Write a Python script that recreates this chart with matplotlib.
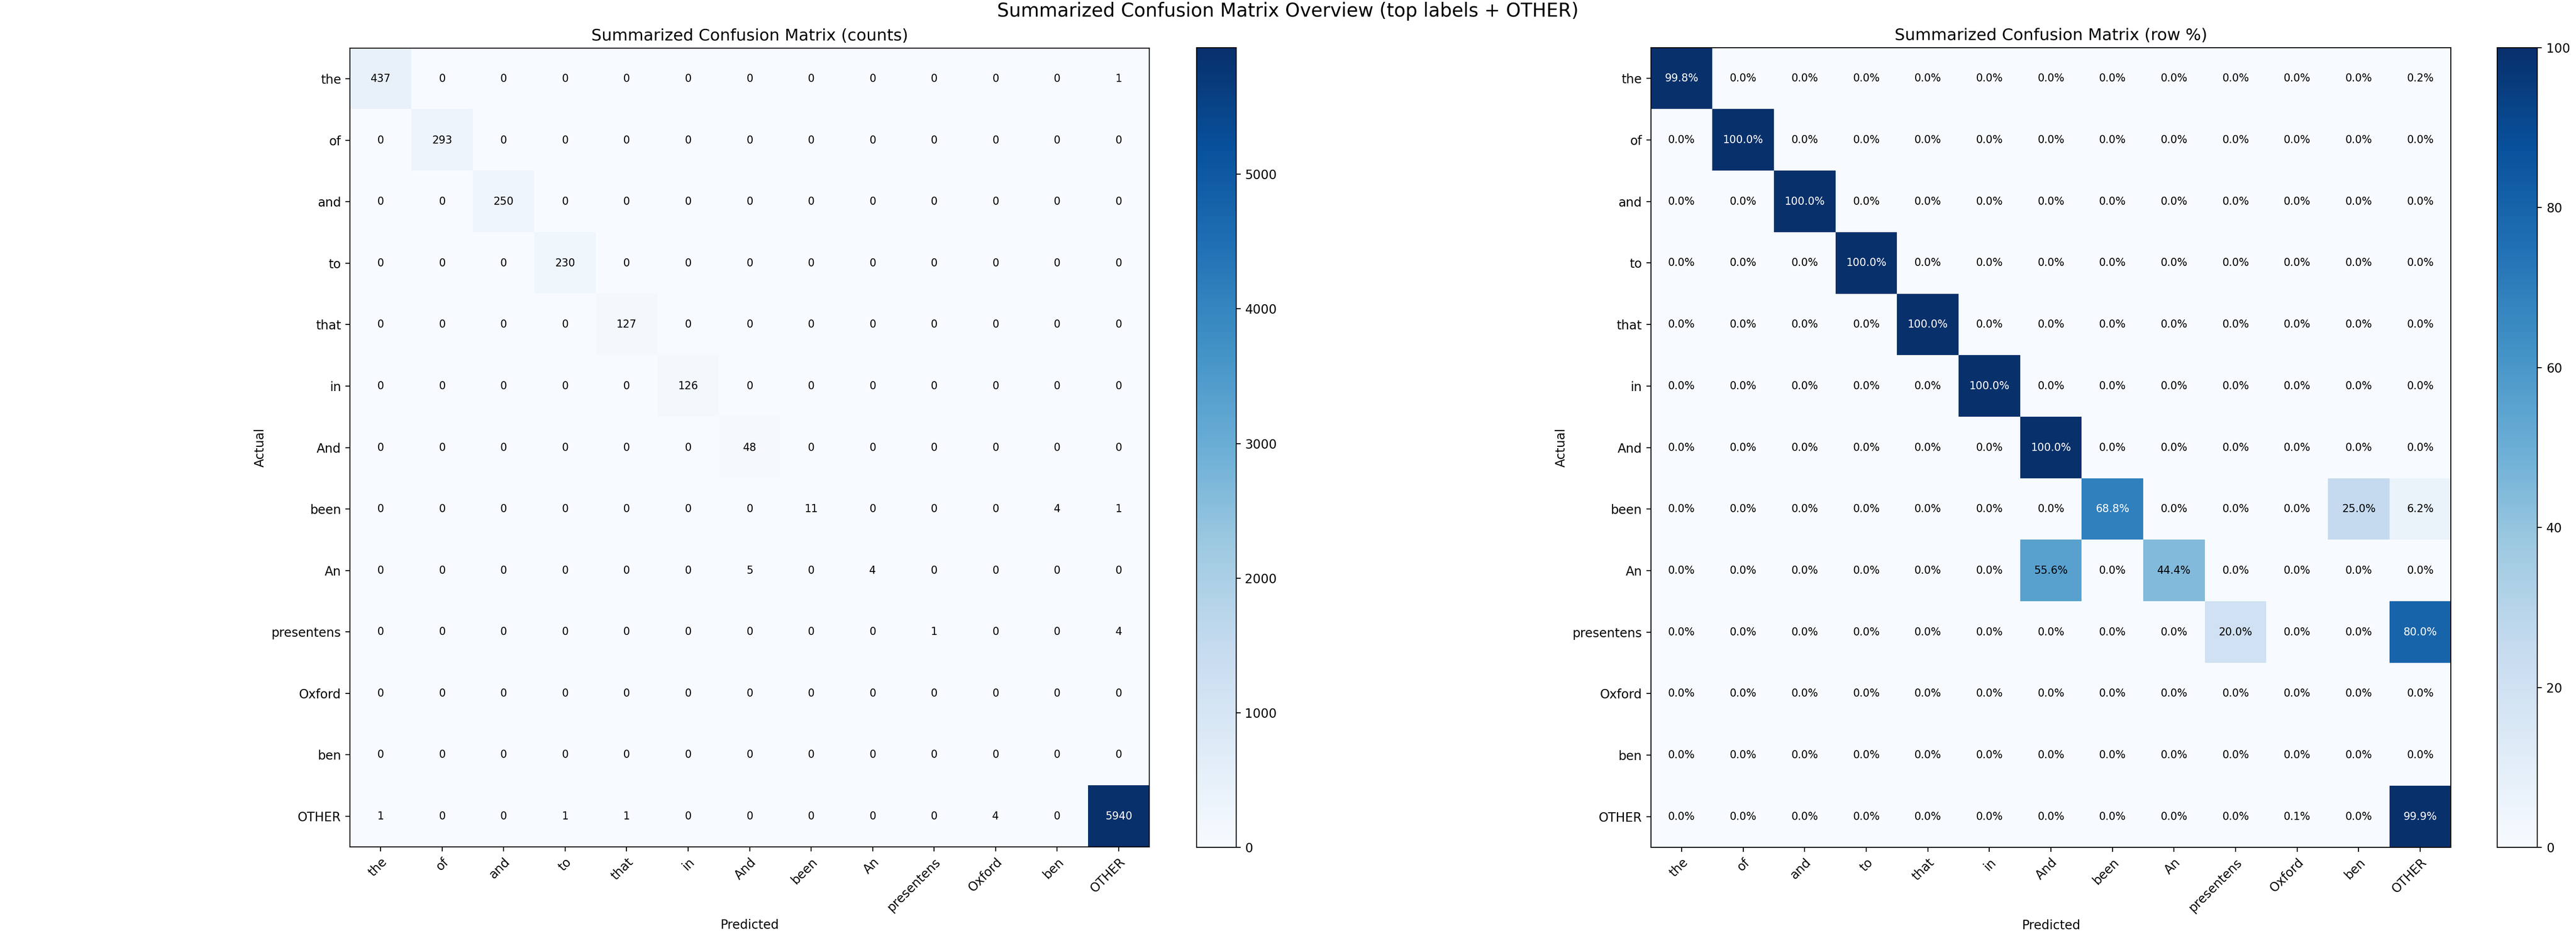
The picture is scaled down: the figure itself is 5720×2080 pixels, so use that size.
import numpy as np
import matplotlib
matplotlib.use('Agg')
import matplotlib.pyplot as plt

# labels (top labels + OTHER)
labels = ['the', 'of', 'and', 'to', 'that', 'in', 'And', 'been', 'An',
          'presentens', 'Oxford', 'ben', 'OTHER']

# counts, rows = actual, cols = predicted
row_the        = [437, 0, 0, 0, 0, 0, 0, 0, 0, 0, 0, 0, 1]
row_of         = [0, 293, 0, 0, 0, 0, 0, 0, 0, 0, 0, 0, 0]
row_and        = [0, 0, 250, 0, 0, 0, 0, 0, 0, 0, 0, 0, 0]
row_to         = [0, 0, 0, 230, 0, 0, 0, 0, 0, 0, 0, 0, 0]
row_that       = [0, 0, 0, 0, 127, 0, 0, 0, 0, 0, 0, 0, 0]
row_in         = [0, 0, 0, 0, 0, 126, 0, 0, 0, 0, 0, 0, 0]
row_And        = [0, 0, 0, 0, 0, 0, 48, 0, 0, 0, 0, 0, 0]
row_been       = [0, 0, 0, 0, 0, 0, 0, 11, 0, 0, 0, 4, 1]
row_An         = [0, 0, 0, 0, 0, 0, 5, 0, 4, 0, 0, 0, 0]
row_presentens = [0, 0, 0, 0, 0, 0, 0, 0, 0, 1, 0, 0, 4]
row_Oxford     = [0, 0, 0, 0, 0, 0, 0, 0, 0, 0, 0, 0, 0]
row_ben        = [0, 0, 0, 0, 0, 0, 0, 0, 0, 0, 0, 0, 0]
row_OTHER      = [1, 0, 0, 1, 1, 0, 0, 0, 0, 0, 4, 0, 5940]

cm = np.array([row_the, row_of, row_and, row_to, row_that, row_in, row_And,
               row_been, row_An, row_presentens, row_Oxford, row_ben,
               row_OTHER], dtype=float)

# row percentages (empty rows -> 0)
rs = cm.sum(axis=1, keepdims=True)
pct = np.divide(cm, rs, out=np.zeros_like(cm), where=rs > 0) * 100

fig = plt.figure(figsize=(28.6, 10.4), dpi=200)
fig.suptitle('Summarized Confusion Matrix Overview (top labels + OTHER)',
             fontsize=15, y=0.998)

ax1 = fig.add_axes([0.1358, 0.0947, 0.3104, 0.8543])
cax1 = fig.add_axes([0.4645, 0.0947, 0.0154, 0.8543])
ax2 = fig.add_axes([0.6407, 0.0947, 0.3109, 0.8543])
cax2 = fig.add_axes([0.9694, 0.0947, 0.0156, 0.8543])


def draw(ax, cax, data, title, fmt, vmax):
    im = ax.imshow(data, cmap='Blues', vmin=0, vmax=vmax, interpolation='nearest')
    cb = fig.colorbar(im, cax=cax)
    cb.ax.tick_params(labelsize=10)
    ax.set_title(title, fontsize=13)
    n = len(labels)
    ax.set_xticks(range(n))
    ax.set_yticks(range(n))
    ax.set_xticklabels(labels, rotation=45, ha='right', rotation_mode='anchor',
                       fontsize=10)
    ax.set_yticklabels(labels, fontsize=10)
    ax.set_xlabel('Predicted', fontsize=10)
    ax.set_ylabel('Actual', fontsize=10)
    thresh = vmax * 0.6
    for i in range(n):
        for j in range(n):
            v = data[i, j]
            ax.text(j, i, fmt(v), ha='center', va='center', fontsize=8.5,
                    color='white' if v > thresh else 'black')
    return cb


cb1 = draw(ax1, cax1, cm, 'Summarized Confusion Matrix (counts)',
           lambda v: f'{int(v)}', cm.max())
cb1.set_ticks([0, 1000, 2000, 3000, 4000, 5000])
cb2 = draw(ax2, cax2, pct, 'Summarized Confusion Matrix (row %)',
           lambda v: f'{v:.1f}%', 100)
cb2.set_ticks([0, 20, 40, 60, 80, 100])

fig.savefig('out.png', dpi=200)
